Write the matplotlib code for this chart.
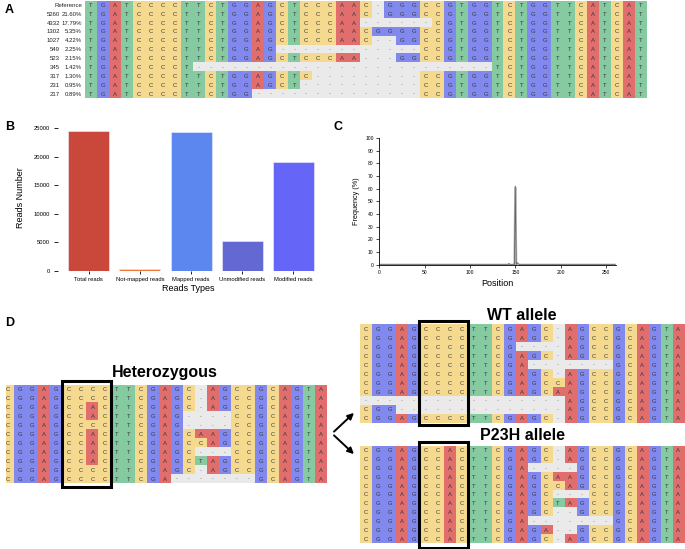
import matplotlib
matplotlib.use('Agg')
import matplotlib.pyplot as plt
import matplotlib.transforms as mtrans
from matplotlib.patches import Rectangle, FancyArrowPatch
import numpy as np

plt.rcParams['font.family'] = ['Liberation Sans', 'DejaVu Sans']

# ---------------- data ----------------
# Panel A: allele table
A_labels_count = ['', '5260', '4332', '1302', '1027', '549', '523', '345', '317', '231', '217']
A_labels_pct = ['Reference', '21.60%', '17.79%', '5.35%', '4.22%', '2.25%', '2.15%', '1.42%', '1.30%', '0.95%', '0.89%']
A_rows = [
    "TGATCCCCTTCTGGAGCTCCCAAC-GGGCCGTGGTCTGGTTCATCAT",
    "TGATCCCCTTCTGGAGCTCCCAAC-GGGCCGTGGTCTGGTTCATCAT",
    "TGATCCCCTTCTGGAGCTCCCAA------CGTGGTCTGGTTCATCAT",
    "TGATCCCCTTCTGGAGCTCCCAACGGGGCCGTGGTCTGGTTCATCAT",
    "TGATCCCCTTCTGGAGCTCCCAAC--GGCCGTGGTCTGGTTCATCAT",
    "TGATCCCCTTCTGGAG------------CCGTGGTCTGGTTCATCAT",
    "TGATCCCCTTCTGGAGCTCCCAA---GGCCGTGGTCTGGTTCATCAT",
    "TGATCCCCT-------------------------TCTGGTTCATCAT",
    "TGATCCCCTTCTGGAGCTC---------CCGTGGTCTGGTTCATCAT",
    "TGATCCCCTTCTGGAGCT----------CCGTGGTCTGGTTCATCAT",
    "TGATCCCCTTCTGG--------------CCGTGGTCTGGTTCATCAT",
]

# Panel B: read counts
B_categories = ['Total reads', 'Not-mapped reads', 'Mapped reads', 'Unmodified reads', 'Modified reads']
B_values = [24530, 300, 24350, 5300, 19050]
B_colors = ['#C9473B', '#EE7230', '#5B87EE', '#6368D3', '#6565F7']

# Panel C: modification frequency along amplicon
C_pos = [0, 141, 142, 143, 144, 148, 149, 150, 151, 152, 153, 154, 155, 260]
C_freq = [0, 0, 0.4, 1.0, 0, 0, 0, 62, 0, 1.6, 1.2, 0.3, 0, 0]
C_pos2 = [0, 148, 149, 150, 151, 152, 260]
C_freq2 = [0, 0, 0, 61, 0, 0, 0]

# Panel D: heterozygous / WT / P23H alleles
D_het = [
    "CGGAGCCCCTTCGAGC-AGCCGCAGTA",
    "CGGAGCCCCTTCGAGC-AGCCGCAGTA",
    "CGGAGCCACTTCGAGC-AGCCGCAGTA",
    "CGGAGCCACTTCGAG----CCGCAGTA",
    "CGGAGCCCCTTCGAG----CCGCAGTA",
    "CGGAGCCACTTCGAGCAAGCCGCAGTA",
    "CGGAGCCACTTCGAGCCAGCCGCAGTA",
    "CGGAGCCACTTCGAGC---CCGCAGTA",
    "CGGAGCCACTTCGAGCTAGCCGCAGTA",
    "CGGAGCCCCTTCGAGC-AGCCGCAGTA",
    "CGGAGCCCCTTCGA-------GCAGTA",
]
D_wt = [
    "CGGAGCCCCTTCGAGC-AGCCGCAGTA",
    "CGGAGCCCCTTCGAGC-AGCCGCAGTA",
    "CGGAGCCCCTTCG----AGCCGCAGTA",
    "CGGAGCCCCTTCGAGC-AGCCGCAGTA",
    "CGGAGCCCCTTCGA-------GCAGTA",
    "CGGAGCCCCTTCGAGC-AGCCGCAGTA",
    "CGGAGCCCCTTCGAGCCAGCCGCAGTA",
    "CGGAGCCCCTTCGAGCAAGCCGCAGTA",
    "-----------------AGCCGCAGTA",
    "CGG--------------AGCCGCAGTA",
    "CGGAGCCCCTTCGAGC-AGCCGCAGTA",
]
D_p23h = [
    "CGGAGCCACTTCGAGC-AGCCGCAGTA",
    "CGGAGCCACTTCGAGC-AGCCGCAGTA",
    "CGGAGCCACTTCGA----GCCGCAGTA",
    "CGGAGCCACTTCGAGCAAGCCGCAGTA",
    "CGGAGCCACTTCGAGCCAGCCGCAGTA",
    "CGGAGCCACTTCGAGC---CCGCAGTA",
    "CGGAGCCACTTCGAGCTAGCCGCAGTA",
    "CGGAGCCACTTCGAGC--GCCGCAGTA",
    "CGGAGCCACTTCGA-------GCAGTA",
    "CGGAGCCACTTCGAGA--GCCGCAGTA",
    "CGGAGCCACTTCGAGC-AGCCGCAGTA",
]
D_titles = ['Heterozygous', 'WT allele', 'P23H allele']

BASE_COLORS = {'A': '#E26D6D', 'T': '#86CAA2', 'C': '#F4D98F', 'G': '#8189EF', '-': '#EAEAEA'}

# ---------------- figure ----------------
W, H = 685, 549
fig = plt.figure(figsize=(W / 100, H / 100), dpi=100)


def px_axes(x0, y0, x1, y1):
    return fig.add_axes([x0 / W, 1 - y1 / H, (x1 - x0) / W, (y1 - y0) / H])


def draw_alignment(ax, rows, fs, xlo=-0.5):
    n_rows, n_cols = len(rows), len(rows[0])
    rgb = np.array([[matplotlib.colors.to_rgb(BASE_COLORS[b]) for b in r] for r in rows])
    ax.imshow(rgb, aspect='auto', interpolation='nearest',
              extent=(-0.5, n_cols - 0.5, n_rows - 0.5, -0.5))
    for i, r in enumerate(rows):
        for j, b in enumerate(r):
            ax.text(j, i + 0.05, b, ha='center', va='center', fontsize=fs,
                    color='#3a3a3a' if b != '-' else '#777777', clip_on=True)
    ax.set_xlim(xlo, n_cols - 0.5)
    ax.set_ylim(n_rows - 0.5, -0.5)
    ax.axis('off')


# ---- Panel A ----
axA = px_axes(85, 0.5, 647, 98)
draw_alignment(axA, A_rows, 4.3)
trA = mtrans.blended_transform_factory(fig.transFigure, axA.transData)
for i, (c, p) in enumerate(zip(A_labels_count, A_labels_pct)):
    axA.text(60 / W, i + 0.05, c, transform=trA, ha='right', va='center', fontsize=4.3, color='#222')
    axA.text(82 / W, i + 0.05, p, transform=trA, ha='right', va='center', fontsize=4.3, color='#222')
fig.text(5 / W, 1 - 10 / H, 'A', fontsize=9, fontweight='bold', va='center', ha='left')

# ---- Panel B ----
axB = px_axes(58, 124.9, 319, 271)
xb = np.arange(len(B_categories))
axB.bar(xb, B_values, width=0.8, color=B_colors, edgecolor='#f0f0ff', linewidth=0.4)
axB.set_xlim(-0.6, 4.5)
axB.set_ylim(0, 25600)
axB.set_yticks([0, 5000, 10000, 15000, 20000, 25000])
axB.set_xticks(xb)
axB.set_xticklabels(B_categories, fontsize=4.2)
axB.tick_params(axis='y', labelsize=4.2, length=3, width=0.6, pad=3)
axB.tick_params(axis='x', length=2, width=0.6, pad=2)
for s in axB.spines.values():
    s.set_visible(False)
axB.set_ylabel('Reads Number', fontsize=6.5, labelpad=6)
axB.set_xlabel('Reads Types', fontsize=6.5, labelpad=1.5)
fig.text(5 / W, 1 - 127 / H, 'B', fontsize=9, fontweight='bold', va='center', ha='left')

# ---- Panel C ----
axC = px_axes(379.3, 138, 616, 264.7)
axC.plot(C_pos2, C_freq2, color='#bbbbbb', lw=1.6)
axC.plot(C_pos, C_freq, color='#666666', lw=0.6)
axC.set_xlim(0, 261)
axC.set_ylim(0, 100)
axC.set_yticks(np.arange(0, 101, 10))
axC.set_xticks([0, 50, 100, 150, 200, 250])
axC.tick_params(labelsize=3.6, length=2, width=0.5, pad=2)
axC.spines['top'].set_visible(False)
axC.spines['right'].set_visible(False)
axC.spines['left'].set_linewidth(0.6)
axC.spines['bottom'].set_linewidth(0.6)
axC.set_ylabel('Frequency (%)', fontsize=5.2, labelpad=4)
axC.set_xlabel('Position', fontsize=6.5, labelpad=3)
fig.text(333 / W, 1 - 127 / H, 'C', fontsize=9, fontweight='bold', va='center', ha='left')

# ---- Panel D ----
fig.text(5 / W, 1 - 323 / H, 'D', fontsize=9, fontweight='bold', va='center', ha='left')

axH = px_axes(6, 385, 327, 483.3)
draw_alignment(axH, D_het, 4.2, xlo=-0.19)
axH.add_patch(Rectangle((4.5, -0.95), 4, 11.9, fill=False, lw=2.2, ec='black', clip_on=False))

axW = px_axes(360, 324.3, 684.3, 423)
draw_alignment(axW, D_wt, 4.2)
axW.add_patch(Rectangle((4.4, -0.85), 4.1, 11.6, fill=False, lw=2.2, ec='black', clip_on=False))

axP = px_axes(360, 445.7, 684.3, 543.3)
draw_alignment(axP, D_p23h, 4.2)
axP.add_patch(Rectangle((4.4, -0.95), 4.1, 11.95, fill=False, lw=2.2, ec='black', clip_on=False))

fig.text(165 / W, 1 - 373 / H, D_titles[0], fontsize=11.5, fontweight='bold', ha='center', va='center')
fig.text(522 / W, 1 - 315 / H, D_titles[1], fontsize=11.5, fontweight='bold', ha='center', va='center')
fig.text(522 / W, 1 - 436 / H, D_titles[2], fontsize=11.5, fontweight='bold', ha='center', va='center')

for (x1, y1) in [(356, 411), (356, 456)]:
    fig.add_artist(FancyArrowPatch((332 / W, 1 - 433.5 / H), (x1 / W, 1 - y1 / H),
                                   transform=fig.transFigure, arrowstyle='-|>',
                                   mutation_scale=9, lw=1.4, color='black'))

fig.savefig('out.png', dpi=100)
